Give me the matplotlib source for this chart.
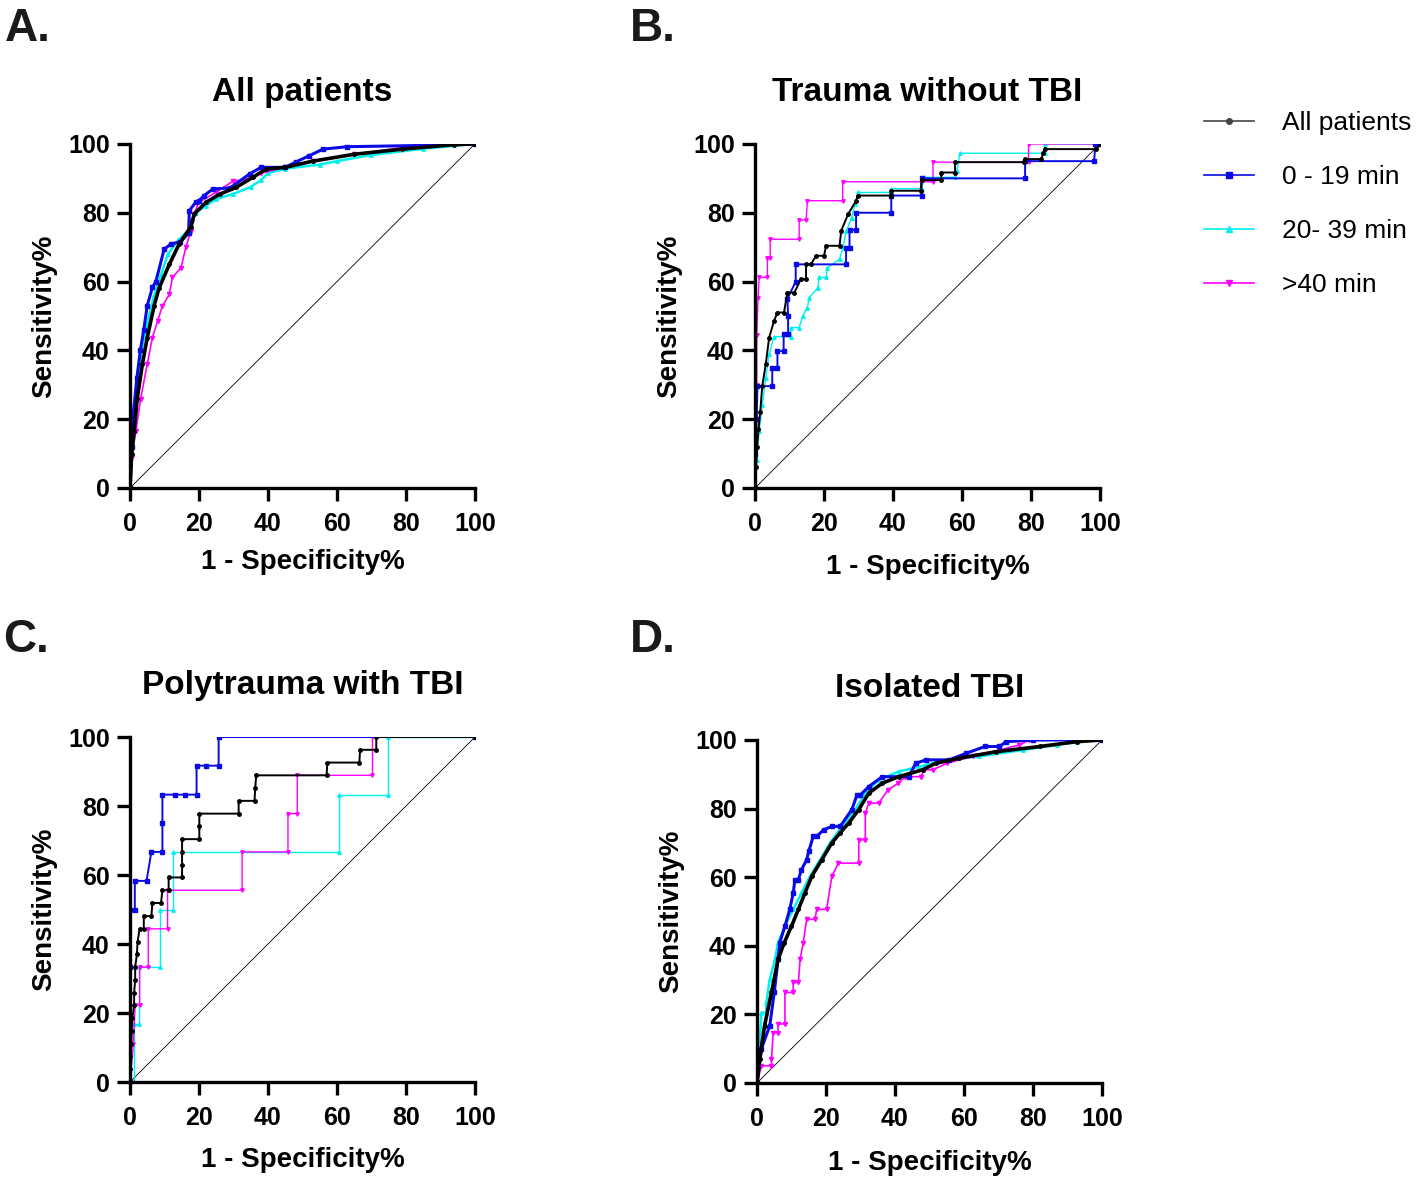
import numpy as np
import matplotlib.pyplot as plt
from matplotlib.lines import Line2D

plt.rcParams['font.family'] = ['Liberation Sans', 'DejaVu Sans']

# ROC curve points (1 - specificity %, sensitivity %)
# A. All patients
a_all_x = [0, 0.5, 1.2, 2.1, 3.6, 5, 7, 8.4, 11.4, 14.3, 17.7, 18.6, 22, 26, 30.8, 35.6, 39.5, 45, 53, 65, 79, 94, 100]
a_all_y = [0, 10, 16.5, 26, 36, 43.7, 53, 58, 65, 71, 76, 79.6, 83, 85.4, 87.4, 90.3, 92.7, 93.2, 95, 97, 98.5, 99.8, 100]
a_019_x = [0, 0.5, 1, 2, 3, 4, 5, 6.5, 7.5, 9.9, 12, 14.5, 17, 17.2, 19, 20, 21.5, 24, 29, 34.7, 38, 45, 48, 52, 56, 63, 87, 100]
a_019_y = [0, 12, 22, 32, 40, 46, 53, 58.3, 60, 69.4, 71, 71.5, 74, 80.6, 83, 83.5, 85, 86.9, 87.2, 91.3, 93.2, 93.2, 94.7, 96.6, 98.5, 99.2, 99.6, 100]
a_2039_x = [0, 0.5, 1, 2, 3, 5, 7, 9, 11, 14, 17, 18, 19, 22, 25, 30, 35, 38, 40, 45, 55, 60, 70, 85, 100]
a_2039_y = [0, 15, 22, 30, 38, 48, 56, 62, 68, 72, 75, 78, 80, 82, 84, 85.5, 87.5, 89.5, 91.5, 92.8, 94, 95, 96.8, 98.6, 100]
a_40_x = [0, 0.5, 1.7, 3.1, 5, 6.5, 8, 9.4, 11.4, 12.3, 14.8, 16.2, 17.7, 18, 18.5, 20, 25, 30, 33, 38, 45, 53, 65, 83, 85, 100]
a_40_y = [0, 9, 16.5, 26, 36, 43.7, 48.5, 52.9, 56.3, 61.2, 64, 70, 74.8, 77.7, 79.6, 83, 86, 89.3, 89.5, 91.5, 93.2, 95, 97, 99.5, 100, 100]

# B. Trauma without TBI
b_all_x = [0, 0.3, 0.6, 1, 1.5, 2.1, 3.1, 4.1, 5.5, 6.5, 8.4, 9.4, 11.4, 13.3, 14.8, 14.8, 16.2, 17.7, 20, 20.6, 24.5, 25, 27, 29.3, 29.8, 39.5, 39.5, 48, 48.3, 54, 54, 58, 58, 78, 78.3, 83, 83.5, 84, 99, 100]
b_all_y = [0, 6, 12, 17, 22, 29.6, 35.9, 43.7, 48.5, 51, 51, 56.8, 56.8, 60.7, 60.7, 65, 65, 67.5, 67.5, 70.4, 70.4, 74.8, 79.6, 83.5, 85, 85, 86.4, 86.4, 89.5, 89.5, 91.7, 91.7, 94.7, 94.7, 95.6, 95.6, 97.3, 98.5, 98.5, 100]
b_019_x = [0, 0, 0.5, 0.7, 5, 5, 6.5, 6.5, 8.3, 8.3, 9.6, 9.6, 9.4, 11.8, 11.8, 26.4, 26.4, 27.4, 27.4, 29.3, 29.3, 39.5, 39.5, 48.3, 48.3, 78.3, 78.3, 98.3, 98.7, 100]
b_019_y = [0, 10, 20, 29.6, 29.6, 35, 35, 39.8, 39.8, 44.9, 44.9, 50, 55, 60, 65, 65, 69.9, 69.9, 75, 75, 80, 80, 85, 85, 90, 90, 95, 95, 100, 100]
b_2039_x = [0, 0.5, 1.2, 2.1, 3.1, 4.1, 5.5, 10.4, 10.4, 12.8, 13.8, 15.2, 15.7, 18.2, 18.6, 20.6, 21, 24.5, 25.5, 26.5, 28, 29, 30, 39.5, 39.5, 48.3, 49, 58, 58.5, 59.4, 84, 84, 100]
b_2039_y = [0, 8, 16.5, 24, 32, 38.8, 44, 44, 46.6, 46.6, 50, 52.4, 55.3, 58.2, 61.2, 61.2, 64, 66.5, 70, 74.8, 78.6, 82.5, 85.9, 85.9, 87, 87, 90.3, 90.3, 92, 97.3, 97.3, 100, 100]
b_40_x = [0, 0.3, 0.5, 0.5, 0.9, 1.2, 3.6, 3.6, 4.4, 4.4, 12.8, 12.8, 14.8, 15.2, 25.4, 25.4, 51.6, 51.6, 79.3, 79.3, 100]
b_40_y = [0, 20, 30, 44.5, 55.3, 61.2, 61.2, 66.8, 66.8, 72.3, 72.3, 77.9, 77.9, 83.5, 83.5, 89, 89, 94.7, 94.7, 100, 100]

# C. Polytrauma with TBI
c_all_x = [0, 0, 0, 0.4, 0.5, 0.7, 1.2, 1.2, 1.5, 1.5, 2, 2.2, 2.8, 4, 4, 6.2, 6.5, 9, 9.4, 11.2, 11.2, 15.1, 15.1, 15.1, 15.1, 20.1, 20.1, 20.1, 31.5, 31.5, 36.1, 36.3, 36.6, 57, 57.2, 66.5, 66.7, 71.4, 71.4, 100]
c_all_y = [0, 3.7, 7.4, 11.1, 14.8, 18.5, 22.2, 25.9, 29.6, 33.3, 37, 40.7, 44.4, 44.4, 48.1, 48.1, 51.9, 51.9, 55.6, 55.6, 59.3, 59.3, 63, 66.7, 70.4, 70.4, 74.1, 77.8, 77.8, 81.5, 81.5, 85.2, 88.9, 88.9, 92.6, 92.6, 96.3, 96.3, 100, 100]
c_019_x = [0, 0, 0, 0, 1.4, 1.4, 4.8, 6.2, 9.4, 9.4, 9.4, 13, 16, 19.3, 19.3, 22, 25.7, 25.7, 100]
c_019_y = [0, 16.7, 33.3, 50, 50, 58.3, 58.3, 66.7, 66.7, 75, 83.3, 83.3, 83.3, 83.3, 91.7, 91.7, 91.7, 100, 100]
c_2039_x = [0, 1.2, 1.2, 2.6, 2.6, 8.7, 8.7, 12.5, 12.5, 60.7, 60.7, 74.8, 74.8, 100]
c_2039_y = [0, 0, 16.7, 16.7, 33.3, 33.3, 50, 50, 66.7, 66.7, 83.3, 83.3, 100, 100]
c_40_x = [0, 1, 1.5, 2.8, 2.8, 5.3, 5.3, 10.9, 10.9, 32.5, 32.5, 45.8, 45.8, 48.5, 48.5, 70.3, 70.3, 100]
c_40_y = [0, 11.1, 22.2, 22.2, 33.3, 33.3, 44.4, 44.4, 55.6, 55.6, 66.7, 66.7, 77.8, 77.8, 88.9, 88.9, 100, 100]

# D. Isolated TBI
d_all_x = [0, 0.8, 2.2, 4.2, 6.1, 7.9, 10, 12, 13.9, 15.9, 18.8, 21.7, 24.1, 26.6, 29.5, 32.4, 36.3, 41.1, 48, 51.8, 58.7, 69.4, 82, 92.7, 100]
d_all_y = [0, 7, 16.7, 26.4, 36, 40.9, 45.7, 50.6, 55.4, 60.3, 65.1, 70, 72.9, 75.8, 79.7, 84.5, 87.4, 89.3, 91.3, 93.2, 94.7, 96.6, 98.1, 99.5, 100]
d_019_x = [0, 1.3, 3.7, 5, 6.1, 6.6, 8.1, 9.5, 10.5, 11, 12, 12.9, 14.4, 15, 16.3, 17.3, 19.3, 21.7, 24.1, 27.5, 29, 30, 32.4, 36.3, 44, 46, 49, 55.7, 60.6, 66.1, 70.3, 72.3, 80, 100]
d_019_y = [0, 10, 16.7, 26.4, 36, 40.9, 45.7, 50.6, 55.4, 59.3, 59.3, 62.2, 65.1, 67.5, 71.9, 71.9, 73.8, 74.8, 74.8, 79.7, 84, 84, 86.4, 89.3, 89.3, 93.2, 94.2, 94.2, 96.1, 98.1, 98.1, 99.5, 100, 100]
d_2039_x = [0, 0.8, 1.3, 2.7, 2.7, 3.7, 5.2, 6.1, 8.1, 10.5, 12.9, 15.4, 18.3, 21.2, 24.6, 28.5, 31.4, 35.3, 41.1, 47, 54.8, 64.5, 77.1, 86.9, 92.7, 100]
d_2039_y = [0, 11.8, 20.5, 20.5, 23.4, 30.2, 36, 40.9, 45.7, 50.6, 55.4, 60.3, 65.1, 70, 74.8, 79.7, 84.5, 88.4, 90.8, 92.2, 94.2, 95.2, 97.1, 98.5, 99.5, 100]
d_40_x = [0, 1.3, 4.2, 4.2, 4.7, 6.1, 6.1, 8.1, 8.1, 10.5, 10.5, 12, 12.5, 13.4, 14.4, 16.8, 17.3, 20.2, 21.7, 23.6, 29.5, 29.5, 31.4, 31.4, 32.4, 35.3, 38, 41, 43, 47.5, 48.5, 51, 55, 62.5, 70.3, 76, 79, 100]
d_40_y = [0, 5, 5, 7, 14.7, 14.7, 17.2, 17.2, 26.4, 26.4, 29.3, 29.3, 36, 40.9, 47.7, 47.7, 50.6, 50.6, 60.3, 64.1, 64.1, 70.9, 70.9, 78.7, 81.6, 81.6, 85.5, 87.4, 89.3, 89.3, 91.3, 91.3, 93.2, 95.2, 97.1, 98.5, 100, 100]

titles = ["All patients", "Trauma without TBI", "Polytrauma with TBI", "Isolated TBI"]
letters = ["A.", "B.", "C.", "D."]
series_labels = ["All patients", "0 - 19 min", "20- 39 min", ">40 min"]
colors = ["#000000", "#0a0ae6", "#00f0f0", "#ff00ff"]
markers = ["o", "s", "^", "v"]

panels = [
    [(a_all_x, a_all_y), (a_019_x, a_019_y), (a_2039_x, a_2039_y), (a_40_x, a_40_y)],
    [(b_all_x, b_all_y), (b_019_x, b_019_y), (b_2039_x, b_2039_y), (b_40_x, b_40_y)],
    [(c_all_x, c_all_y), (c_019_x, c_019_y), (c_2039_x, c_2039_y), (c_40_x, c_40_y)],
    [(d_all_x, d_all_y), (d_019_x, d_019_y), (d_2039_x, d_2039_y), (d_40_x, d_40_y)],
]

# axes boxes in figure fractions [left, bottom, width, height]
boxes = [
    [0.0918, 0.5854, 0.2436, 0.2923],
    [0.5332, 0.5854, 0.2436, 0.2923],
    [0.0918, 0.0807, 0.2436, 0.2931],
    [0.5346, 0.0799, 0.2436, 0.2914],
]
xlabel_pads = [9.5, 13, 12, 13.5]
dense = [True, False, False, True]
# draw order: cyan, magenta, blue, black on top
order = [2, 3, 1, 0]

fig = plt.figure(figsize=(14.16, 11.77), dpi=100)

for p in range(4):
    ax = fig.add_axes(boxes[p])
    ax.plot([0, 100], [0, 100], color="black", lw=0.6, zorder=1)
    for s in order:
        x, y = panels[p][s]
        if dense[p]:
            lw = [2.6, 2.2, 1.8, 1.2][s]
            ms = [2.5, 3, 2.5, 3][s]
        else:
            lw = [1.4, 1.4, 1.0, 1.0][s]
            ms = [2.5, 3, 2.5, 2.5][s]
        ax.plot(x, y, color=colors[s], lw=lw, marker=markers[s], ms=ms,
                mec=colors[s], mfc=colors[s], zorder=2 + (s == 0))
    ax.set_xlim(0, 100)
    ax.set_ylim(0, 100)
    ax.set_xticks([0, 20, 40, 60, 80, 100])
    ax.set_yticks([0, 20, 40, 60, 80, 100])
    for sp in ["top", "right"]:
        ax.spines[sp].set_visible(False)
    for sp in ["left", "bottom"]:
        ax.spines[sp].set_linewidth(2.4)
    ax.tick_params(direction="out", length=9.5, width=2.4, labelsize=18, pad=5)
    ax.tick_params(axis="x", pad=8)
    for lab in ax.get_xticklabels() + ax.get_yticklabels():
        lab.set_fontweight("bold")
    ax.set_xlabel("1 - Specificity%", fontsize=20, fontweight="bold", labelpad=xlabel_pads[p])
    ax.set_ylabel("Sensitivity%", fontsize=20, fontweight="bold", labelpad=8)
    ax.set_title(titles[p], fontsize=24, fontweight="bold", pad=31)

# panel letters
fig.text(5 / 1416, 1 - 41 / 1177, "A.", fontsize=33, fontweight="bold", color="#1a1a1a")
fig.text(630 / 1416, 1 - 41 / 1177, "B.", fontsize=33, fontweight="bold", color="#1a1a1a")
fig.text(3 / 1416, 1 - 652 / 1177, "C.", fontsize=33, fontweight="bold", color="#1a1a1a")
fig.text(630 / 1416, 1 - 652 / 1177, "D.", fontsize=33, fontweight="bold", color="#1a1a1a")

# legend
handles = [Line2D([0], [0], color=colors[i] if i else "#444444", lw=1.2,
                  marker=markers[i], ms=4) for i in range(4)]
fig.legend(handles, series_labels, loc="upper left",
           bbox_to_anchor=(1204 / 1416, 1 - 111 / 1177), frameon=False,
           fontsize=19, handlelength=1.9, handletextpad=1.06, labelspacing=1.14,
           borderpad=0, borderaxespad=0)

fig.savefig("out.png", dpi=100)
